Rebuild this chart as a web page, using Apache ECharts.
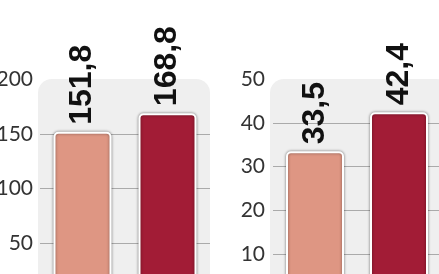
<!DOCTYPE html>
<html>
<head>
<meta charset="utf-8">
<script src="https://cdn.jsdelivr.net/npm/echarts@6/dist/echarts.min.js"></script>
<style>
html,body{margin:0;padding:0;background:#fff;}
#chart{width:439px;height:274px;}
</style>
</head>
<body>
<div id="chart"></div>
<script>
// ---- data ----
var categories = ['Poprzednio', 'Obecnie'];
var leftValues = [151.8, 168.8];
var rightValues = [33.5, 42.4];
var barColors = ['#de9683', '#a21c36'];
var leftAxis = { min: 0, max: 200, interval: 50 };
var rightAxis = { min: 0, max: 50, interval: 10 };

// ---- chart ----
var chart = echarts.init(document.getElementById('chart'));

function barData(vals) {
  return vals.map(function (v, i) {
    return { value: v, itemStyle: { color: barColors[i] } };
  });
}

function yAxisCfg(ax, gridIndex, margin) {
  return {
    type: 'value', gridIndex: gridIndex,
    min: ax.min, max: ax.max, interval: ax.interval,
    axisLine: { show: false }, axisTick: { show: false },
    axisLabel: { fontFamily: 'Lato', fontSize: 21, color: '#333', margin: margin },
    splitLine: { show: true, showMaxLine: false, lineStyle: { color: '#aaaaaa', width: 1 } }
  };
}

var barStyle = {
  borderColor: '#ffffff', borderWidth: 2, borderRadius: 4,
  shadowBlur: 3, shadowColor: 'rgba(0,0,0,0.45)'
};

var labelCfg = {
  show: true, position: 'top', rotate: 90, align: 'left', verticalAlign: 'middle',
  distance: 7,
  fontFamily: '"Liberation Sans", Arial, sans-serif', fontWeight: 'bold', fontSize: 32, color: '#111',
  formatter: function (p) { return String(p.value).replace('.', ','); }
};

chart.setOption({
  animation: false,
  backgroundColor: '#ffffff',
  graphic: [
    { type: 'rect', z: -10, shape: { x: 38, y: 79, width: 172, height: 230, r: [14, 14, 0, 0] }, style: { fill: '#efefef' } },
    { type: 'rect', z: -10, shape: { x: 270, y: 79, width: 180, height: 230, r: [14, 14, 0, 0] }, style: { fill: '#efefef' } }
  ],
  grid: [
    { left: 40, top: 79, width: 170, height: 219, containLabel: false, outerBoundsMode: 'none' },
    { left: 273, top: 79, width: 168, height: 219, containLabel: false, outerBoundsMode: 'none' }
  ],
  xAxis: [
    { type: 'category', gridIndex: 0, data: categories, show: false },
    { type: 'category', gridIndex: 1, data: categories, show: false }
  ],
  yAxis: [yAxisCfg(leftAxis, 0, 7), yAxisCfg(rightAxis, 1, 8)],
  series: [
    { type: 'bar', xAxisIndex: 0, yAxisIndex: 0, barWidth: 58, data: barData(leftValues), itemStyle: barStyle, label: labelCfg },
    { type: 'bar', xAxisIndex: 1, yAxisIndex: 1, barWidth: 58, data: barData(rightValues), itemStyle: barStyle, label: labelCfg }
  ]
});
</script>
</body>
</html>
